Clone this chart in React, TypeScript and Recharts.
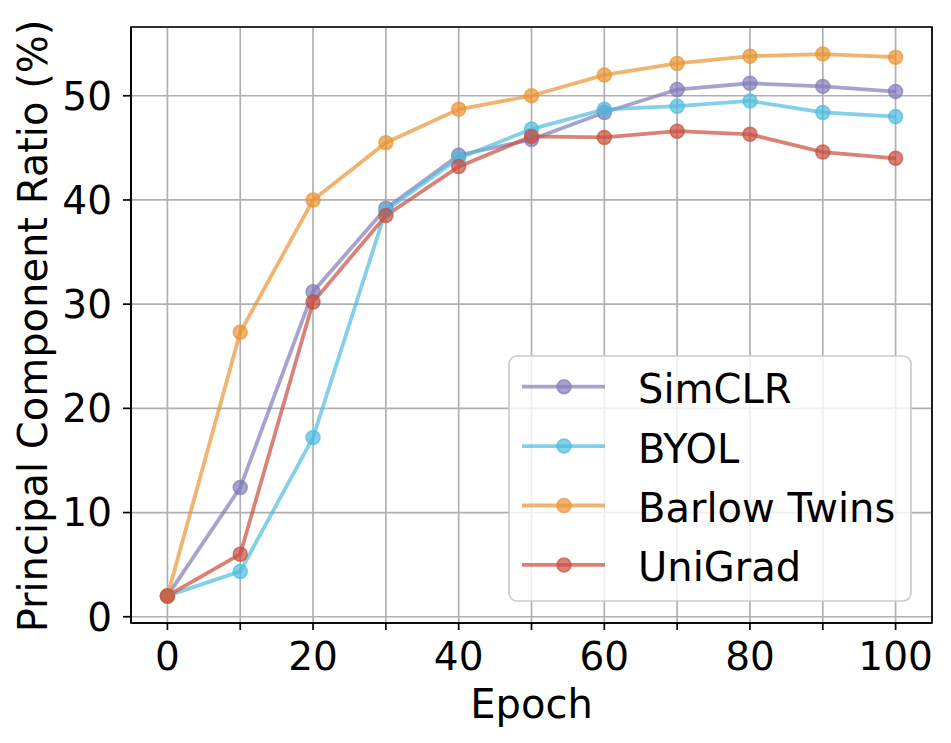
import {
  LineChart,
  Line,
  XAxis,
  YAxis,
  CartesianGrid,
  Legend,
  ReferenceArea,
} from 'recharts';

const epochs = [0, 10, 20, 30, 40, 50, 60, 70, 80, 90, 100];
const simclr = [2.0, 12.4, 31.2, 39.2, 44.3, 45.8, 48.4, 50.6, 51.2, 50.9, 50.4];
const byol = [2.0, 4.35, 17.2, 39.0, 44.0, 46.8, 48.7, 49.0, 49.5, 48.4, 48.0];
const barlow = [2.0, 27.3, 40.0, 45.5, 48.7, 50.0, 52.0, 53.1, 53.8, 54.0, 53.7];
const unigrad = [2.0, 6.0, 30.2, 38.5, 43.2, 46.1, 46.0, 46.6, 46.3, 44.6, 44.0];

const xTicks = [0, 10, 20, 30, 40, 50, 60, 70, 80, 90, 100];
const yTicks = [0, 10, 20, 30, 40, 50];

const series = [
  { key: 'simclr', name: 'SimCLR', color: '#817cbb' },
  { key: 'byol', name: 'BYOL', color: '#4ebcde' },
  { key: 'barlow', name: 'Barlow Twins', color: '#ea9433' },
  { key: 'unigrad', name: 'UniGrad', color: '#c94f3e' },
];

const data = epochs.map((epoch, i) => ({
  epoch,
  simclr: simclr[i],
  byol: byol[i],
  barlow: barlow[i],
  unigrad: unigrad[i],
}));

const FONT = 'DejaVu Sans, Verdana, sans-serif';
const TICK_FS = 39;
const LABEL_FS = 40;
const tickStyle = { fontFamily: FONT, fontSize: TICK_FS, fill: '#000' };

function YLabel() {
  return (
    <text
      x={46.5}
      y={326}
      transform="rotate(-90 46.5 326)"
      textAnchor="middle"
      fontFamily={FONT}
      fontSize={LABEL_FS}
      fill="#000"
    >
      Principal Component Ratio (%)
    </text>
  );
}

// drawn in series order (recharts sorts the payload by name otherwise)
function LegendBox() {
  return (
    <svg width={404} height={247} style={{ display: 'block' }}>
      <rect
        x={1}
        y={1}
        width={402}
        height={245}
        rx={8}
        fill="#fff"
        fillOpacity={0.8}
        stroke="#cccccc"
        strokeWidth={1.7}
      />
      {series.map((s, i) => {
        const cy = 31.7 + i * 59.4;
        return (
          <g key={s.key}>
            <line x1={14} x2={97} y1={cy} y2={cy} stroke={s.color} strokeOpacity={0.7} strokeWidth={3.8} />
            <circle cx={56} cy={cy} r={7} fill={s.color} fillOpacity={0.7} stroke={s.color} strokeOpacity={0.7} strokeWidth={1.5} />
            <text x={130} y={cy + 16.5} fontFamily={FONT} fontSize={LABEL_FS} fill="#000">
              {s.name}
            </text>
          </g>
        );
      })}
    </svg>
  );
}

export default function App() {
  return (
    <div style={{ position: 'absolute', left: 0, top: 0, background: '#fff' }}>
      <LineChart width={951} height={743} data={data} margin={{ top: 27, right: 19, left: 0, bottom: 0 }}>
        <CartesianGrid stroke="#b0b0b0" strokeWidth={1.7} />
        <XAxis
          dataKey="epoch"
          type="number"
          domain={[-5, 105]}
          ticks={xTicks}
          interval={0}
          tickFormatter={(v: number) => (v % 20 === 0 ? String(v) : '')}
          height={120}
          tick={tickStyle}
          tickSize={7}
          tickMargin={12}
          tickLine={{ stroke: '#000', strokeWidth: 1.7 }}
          axisLine={{ stroke: '#000', strokeWidth: 1.7 }}
          label={{ value: 'Epoch', position: 'insideBottom', offset: 25, style: { fontFamily: FONT, fontSize: LABEL_FS, fill: '#000' } }}
        />
        <YAxis
          type="number"
          domain={[-0.6, 56.6]}
          ticks={yTicks}
          interval={0}
          width={131}
          tick={tickStyle}
          tickSize={8}
          tickMargin={11}
          tickLine={{ stroke: '#000', strokeWidth: 1.7 }}
          axisLine={{ stroke: '#000', strokeWidth: 1.7 }}
          label={<YLabel />}
        />
        <ReferenceArea x1={-5} x2={105} y1={-0.6} y2={56.6} fill="none" stroke="#000" strokeWidth={1.7} strokeOpacity={1} fillOpacity={0} />
        {series.map((s) => (
          <Line
            key={s.key}
            dataKey={s.key}
            name={s.name}
            type="linear"
            stroke={s.color}
            strokeOpacity={0.7}
            strokeWidth={3.8}
            dot={{ r: 7, fill: s.color, fillOpacity: 0.7, stroke: s.color, strokeOpacity: 0.7, strokeWidth: 1.5 }}
            activeDot={false}
            isAnimationActive={false}
          />
        ))}
        <Legend
          layout="horizontal"
          align="center"
          verticalAlign="middle"
          content={LegendBox}
          wrapperStyle={{ left: 508, top: 355, width: 404, height: 247 }}
        />
      </LineChart>
    </div>
  );
}
